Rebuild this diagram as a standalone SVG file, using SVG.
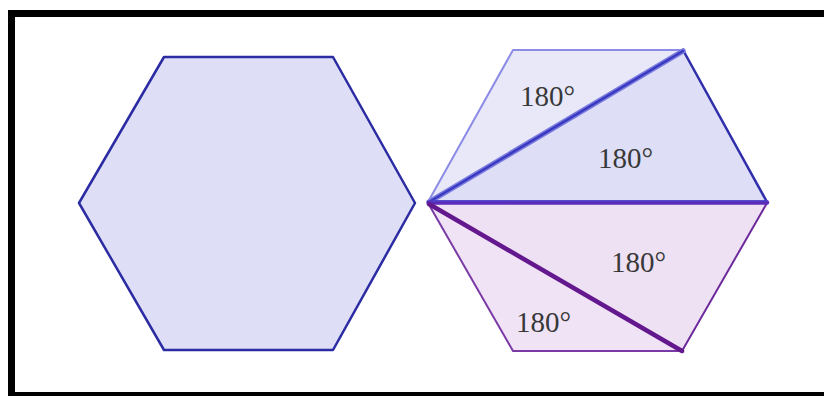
<svg xmlns="http://www.w3.org/2000/svg" width="824" height="396" viewBox="0 0 824 396">
<style>
.lbl{font-family:"Liberation Serif","Times New Roman",serif;font-size:29px;fill:#383838}
.edge{fill:none;stroke-linejoin:round;stroke-linecap:round}
</style>
<rect x="0" y="0" width="824" height="396" fill="#ffffff"/>
<rect x="11.5" y="13.5" width="830" height="382" fill="none" stroke="#000000" stroke-width="7"/>
<g id="hexagon-left">
<polygon points="164,57 333,57 415,203 333,350 164,350 79,203" fill="#dedff7" stroke="#2b2ba3" stroke-width="2.5" stroke-linejoin="round"/>
</g>
<g id="triangle-top-left">
<polygon points="428,202 513,50 683,50" fill="#e8e8f9" stroke="#8c8ce6" stroke-width="2" stroke-linejoin="round"/>
<text class="lbl" x="520" y="106">180°</text>
</g>
<g id="triangle-top-right">
<polygon points="428,202 683,50 767,202" fill="#dedff7" stroke="#2f2fab" stroke-width="2.5" stroke-linejoin="round"/>
<text class="lbl" x="598" y="168">180°</text>
</g>
<g id="triangle-bottom-right">
<polygon points="428,203 767,203 682,351" fill="#efe1f4" stroke="#6d2a9c" stroke-width="2" stroke-linejoin="round"/>
<text class="lbl" x="611" y="272">180°</text>
</g>
<g id="triangle-bottom-left">
<polygon points="428,203 682,351 513,351" fill="#f0e3f6" stroke="#7a3aa6" stroke-width="2" stroke-linejoin="round"/>
<text class="lbl" x="516" y="332">180°</text>
</g>
<g id="connectors">
<line class="edge" x1="429" y1="202" x2="683" y2="51" stroke="#7b7be0" stroke-width="5.5"/>
<line class="edge" x1="429" y1="202" x2="683" y2="51" stroke="#3a3ac0" stroke-width="2.5"/>
<line class="edge" x1="429" y1="202.5" x2="767" y2="202.5" stroke="#5a2cb8" stroke-width="4.5"/>
<line class="edge" x1="429" y1="201" x2="767" y2="201" stroke="#4646d6" stroke-width="1.2"/>
<line class="edge" x1="429" y1="204" x2="682" y2="351" stroke="#64188e" stroke-width="4.5"/>
</g>
</svg>
